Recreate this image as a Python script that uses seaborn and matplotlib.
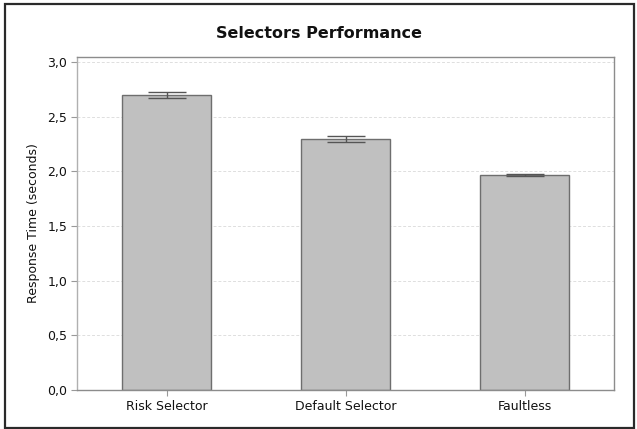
import matplotlib
matplotlib.use("Agg")
import matplotlib.pyplot as plt
import seaborn as sns
import pandas as pd
from matplotlib.patches import Rectangle

selectors = ["Risk Selector", "Default Selector", "Faultless"]
response_time = [2.70, 2.295, 1.967]
response_err = [0.028, 0.025, 0.006]
y_ticks = [0.0, 0.5, 1.0, 1.5, 2.0, 2.5, 3.0]

df = pd.DataFrame({"selector": selectors, "time": response_time, "err": response_err})

sns.set_theme(style="white")
plt.rcParams["font.family"] = ["DejaVu Sans"]

fig = plt.figure(figsize=(6.37, 4.29), dpi=100)
ax = fig.add_axes([77 / 637, 1 - 390 / 429, (614 - 77) / 637, (390 - 57) / 429])

sns.barplot(data=df, x="selector", y="time", ax=ax, color="#c0c0c0",
            edgecolor="#6e6e6e", linewidth=1.0, width=0.5, errorbar=None,
            saturation=1)
ax.errorbar(range(len(selectors)), df["time"], yerr=df["err"], fmt="none",
            ecolor="#555555", elinewidth=1.0, capsize=14, capthick=1.0, zorder=5)

ax.set_xlim(-0.5, 2.5)
ax.set_ylim(0, 3.045)
ax.set_yticks(y_ticks)
ax.set_yticklabels([f"{v:.1f}".replace(".", ",") for v in y_ticks])
ax.yaxis.grid(True, linestyle=(0, (3, 2)), color="#dedede", linewidth=0.7)
ax.set_axisbelow(True)

for side in ["top", "right", "bottom"]:
    ax.spines[side].set_color("#8c8c8c")
ax.spines["left"].set_color("#b0b0b0")
for s in ax.spines.values():
    s.set_linewidth(1.0)

ax.tick_params(axis="both", which="both", length=4, width=0.8, color="#999999",
               labelsize=9, labelcolor="#111111", pad=3, direction="out",
               bottom=True, left=True)
ax.set_xlabel("")
ax.set_ylabel("Response Time (seconds)", fontsize=9, color="#111111", labelpad=5)

fig.text(0.5, 1 - 33 / 429, "Selectors Performance", ha="center", va="center",
         fontsize=11.5, fontweight="bold", color="#111111")

fig.patches.append(Rectangle((4.5 / 637, 1.5 / 429), 629 / 637, 423.5 / 429,
                             transform=fig.transFigure, fill=False,
                             edgecolor="#2a2a2a", linewidth=1.6))

fig.savefig("out.png", dpi=100, facecolor="white")
